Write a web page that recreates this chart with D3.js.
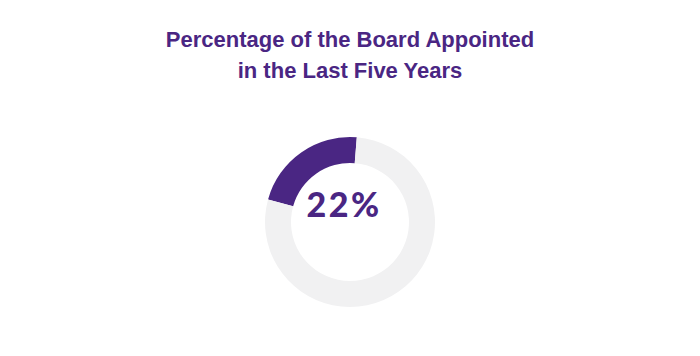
<!DOCTYPE html>
<html>
<head>
<meta charset="utf-8">
<script src="https://cdn.jsdelivr.net/npm/d3@7"></script>
<style>
  body { margin: 0; background: #fff; }
</style>
</head>
<body>
<div id="chart"></div>
<script>
const W = 700;
const H = 356;

const titleLines = ["Percentage of the Board Appointed", "in the Last Five Years"];
const categories = ["Appointed in last five years", "Other"];
const values = [22, 78];
const colors = ["#4a2683", "#f1f1f2"];
const centerLabel = "22%";

const svg = d3.select("#chart").append("svg")
    .attr("width", W)
    .attr("height", H);

// title
svg.append("text")
    .attr("x", W / 2)
    .attr("y", 47)
    .attr("text-anchor", "middle")
    .style("font-family", "'Liberation Sans', Arial, sans-serif")
    .style("font-weight", "bold")
    .style("font-size", "22px")
    .style("fill", "#4a2683")
    .selectAll("tspan")
    .data(titleLines)
    .enter()
    .append("tspan")
    .attr("x", W / 2)
    .attr("dy", (d, i) => i === 0 ? 0 : 31)
    .text(d => d);

// donut
const cx = 350, cy = 222;
const outerR = 85, innerR = 59;
const offset = 0.08; // arc ends slightly past 12 o'clock

const pie = d3.pie()
    .sort(null)
    .startAngle(-values[0] / 100 * 2 * Math.PI + offset)
    .endAngle(2 * Math.PI - values[0] / 100 * 2 * Math.PI + offset);

const arc = d3.arc().innerRadius(innerR).outerRadius(outerR);

const g = svg.append("g").attr("transform", `translate(${cx},${cy})`);

g.selectAll("path")
    .data(pie(values))
    .enter()
    .append("path")
    .attr("d", arc)
    .style("fill", (d, i) => colors[i]);

g.append("text")
    .attr("x", -6)
    .attr("y", -5)
    .attr("text-anchor", "middle")
    .style("font-family", "Lato, 'Open Sans', sans-serif")
    .style("font-weight", "900")
    .style("font-size", "34px")
    .style("letter-spacing", "2.5px")
    .style("fill", "#4a2683")
    .text(centerLabel);
</script>
</body>
</html>
